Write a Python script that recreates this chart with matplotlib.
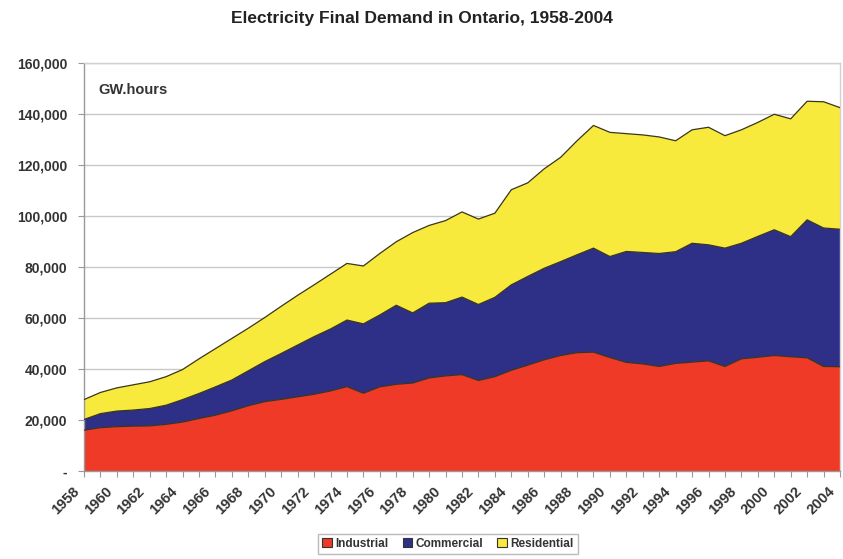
import matplotlib
matplotlib.use("Agg")
import matplotlib.pyplot as plt
import matplotlib.transforms as mtransforms
import numpy as np
from matplotlib.ticker import FuncFormatter, MultipleLocator
from matplotlib.patches import Patch

plt.rcParams['font.family'] = ['Liberation Sans', 'DejaVu Sans']

years = list(range(1958, 2005))
year_labels = [str(y) for y in years[::2]]

industrial = [16.0, 17.0, 17.4, 17.6, 17.7, 18.3, 19.2, 20.6, 21.9, 23.6,
              25.6, 27.2, 28.1, 29.1, 30.1, 31.4, 33.1, 30.5, 33.0, 34.0,
              34.5, 36.5, 37.3, 37.8, 35.5, 37.0, 39.5, 41.5, 43.6, 45.3,
              46.4, 46.6, 44.5, 42.6, 42.0, 41.0, 42.2, 42.7, 43.2, 41.0,
              44.0, 44.6, 45.3, 44.8, 44.4, 41.0, 40.9]
commercial = [4.2, 5.5, 6.1, 6.3, 6.8, 7.5, 8.8, 9.8, 11.1, 12.1,
              13.7, 15.7, 18.0, 20.3, 22.6, 24.3, 26.1, 27.2, 28.2, 31.0,
              27.5, 29.3, 28.7, 30.4, 29.8, 31.1, 33.5, 34.8, 35.9, 36.8,
              38.4, 40.8, 39.6, 43.5, 43.7, 44.3, 43.8, 46.6, 45.5, 46.4,
              45.3, 47.4, 49.3, 47.1, 54.1, 54.3, 53.9]
residential = [7.8, 8.3, 9.1, 9.9, 10.5, 11.2, 11.8, 13.6, 15.0, 16.3,
               16.7, 17.3, 18.5, 19.5, 20.3, 21.5, 22.2, 22.7, 24.1, 24.9,
               31.5, 30.5, 32.2, 33.4, 33.5, 33.0, 37.3, 36.7, 39.0, 40.9,
               44.7, 48.1, 48.7, 46.2, 46.1, 45.7, 43.5, 44.5, 46.1, 44.1,
               44.5, 44.7, 45.3, 46.2, 46.5, 49.5, 47.7]

series_names = ['Industrial', 'Commercial', 'Residential']
colors = ['#EE3A26', '#2E3087', '#F8EA3C']

ind = np.array(industrial) * 1000
com = np.array(commercial) * 1000
res = np.array(residential) * 1000

fig = plt.figure(figsize=(8.43, 5.59), dpi=100)
ax = fig.add_axes([84/843, 88/559, 756/843, 408/559])

x = np.array(years)
base0 = np.zeros_like(ind)
b1 = ind
b2 = ind + com
b3 = ind + com + res
for lo, hi, c in zip([base0, b1, b2], [b1, b2, b3], colors):
    ax.fill_between(x, lo, hi, facecolor=c, edgecolor='none', zorder=2)
for hi in [b1, b2, b3]:
    ax.plot(x, hi, color='#3a3520', lw=0.9, zorder=3)

ax.set_xlim(1958, 2004)
ax.set_ylim(0, 160000)
ax.yaxis.set_major_locator(MultipleLocator(20000))
ax.yaxis.set_major_formatter(FuncFormatter(lambda v, p: '-' if v == 0 else f'{int(v):,}'))
ax.grid(axis='y', color='#c8c8c8', lw=1.0, zorder=1)
ax.set_axisbelow(True)

ax.set_xticks(years)
ax.set_xticklabels([])
ax.tick_params(axis='x', length=4, color='#999999')
offset = mtransforms.ScaledTranslation(-12/100, -13/100, fig.dpi_scale_trans)
trans = ax.get_xaxis_transform() + offset
for yr, lab in zip(years[::2], year_labels):
    ax.text(yr, 0, lab, transform=trans, rotation=45, ha='right', va='top',
            rotation_mode='anchor', fontsize=10.5, fontweight='bold',
            color='#333333', clip_on=False)

ax.tick_params(axis='y', length=4, color='#999999', labelsize=10, labelcolor='#333333', pad=8)
for lab in ax.get_yticklabels():
    lab.set_fontweight('bold')

for s in ['left', 'bottom']:
    ax.spines[s].set_color('#999999')
    ax.spines[s].set_linewidth(1.0)
for s in ['top', 'right']:
    ax.spines[s].set_color('#d0d0d0')
    ax.spines[s].set_linewidth(1.0)

ax.text(0.019, 0.935, 'GW.hours', transform=ax.transAxes, fontsize=10.5,
        fontweight='bold', color='#333333', ha='left', va='center')

fig.text(0.5, 1 - 18/559, 'Electricity Final Demand in Ontario, 1958-2004',
         ha='center', va='center', fontsize=12.5, fontweight='bold', color='#222222')

handles = [Patch(facecolor=c, edgecolor='#333333', lw=0.8) for c in colors]
leg = fig.legend(handles, series_names, loc='center', bbox_to_anchor=(448/843, 1 - 544/559),
                 ncol=3, frameon=True, handlelength=0.8, handleheight=0.8,
                 handletextpad=0.3, columnspacing=1.2, borderpad=0.35, fancybox=False,
                 edgecolor='#aaaaaa', prop={'weight': 'bold', 'size': 8.5})
for t in leg.get_texts():
    t.set_color('#333333')

fig.savefig('out.png', dpi=100)
